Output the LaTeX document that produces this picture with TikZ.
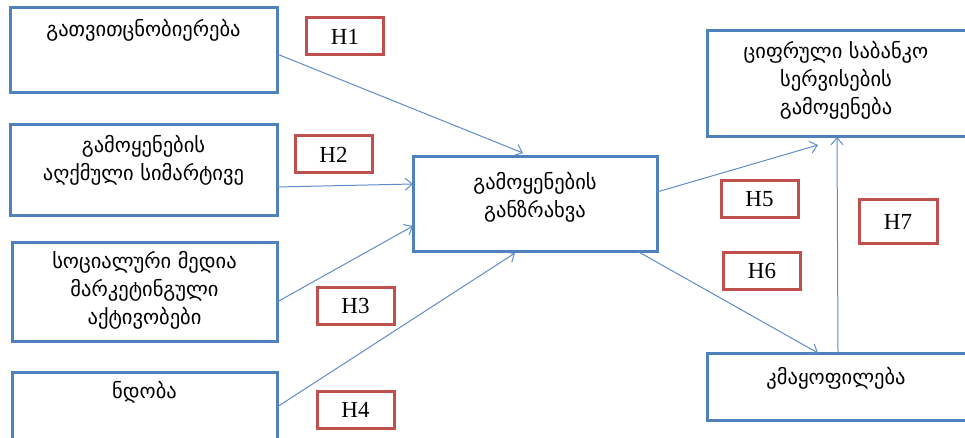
\documentclass[tikz,border=0pt]{standalone}
\usepackage{fontspec}
\newfontfamily\geo{DejaVu Sans}
\newfontfamily\hfont{Liberation Serif}
\usetikzlibrary{arrows.meta}
\definecolor{boxblue}{RGB}{79,129,189}
\definecolor{lineblue}{RGB}{95,140,200}
\definecolor{hred}{RGB}{192,80,77}
\tikzset{
  mainbox/.style={draw=boxblue, line width=3pt, inner sep=0pt, outer sep=0pt, fill=white},
  hbox/.style={draw=hred, line width=3pt, inner sep=0pt, outer sep=0pt, minimum width=77pt, minimum height=37pt, font=\hfont\fontsize{23}{25}\selectfont},
  gtext/.style={align=center, inner sep=0pt, font=\geo\fontsize{20.5}{28}\selectfont},
  conn/.style={draw=lineblue, line width=1pt, -{Straight Barb[length=7pt,width=12pt,line width=1pt]}}
}
\begin{document}
\begin{tikzpicture}[x=1pt,y=-1pt]
\useasboundingbox (0,0) rectangle (965,438);
\clip (0,0) rectangle (965,438);
% main boxes
\node[mainbox, minimum width=267pt, minimum height=85pt] (b1) at (143.5,50.5) {};
\node[mainbox, minimum width=267pt, minimum height=91pt] (b2) at (143.5,170.5) {};
\node[mainbox, minimum width=265pt, minimum height=99pt] (b3) at (144.5,291.5) {};
\node[mainbox, minimum width=265pt, minimum height=98pt] (b4) at (144.5,421) {};
\node[mainbox, minimum width=244pt, minimum height=94pt] (c) at (535,204) {};
\node[mainbox, minimum width=293pt, minimum height=106pt] (tr) at (853.5,84) {};
\node[mainbox, minimum width=293pt, minimum height=67pt] (br) at (853.5,386.5) {};
% texts
\node[gtext] (t1) at (143.5,30) {გათვითცნობიერება};
\node[gtext] (t2) at (143.5,160) {გამოყენების\\აღქმული სიმარტივე};
\node[gtext] (t3) at (144.5,290) {სოციალური მედია\\მარკეტინგული\\აქტივობები};
\node[gtext] (t4) at (144.5,392) {ნდობა};
\node[gtext] (tc) at (535,197) {გამოყენების\\განზრახვა};
\node[gtext] (ttr) at (836,80) {ციფრული საბანკო\\სერვისების\\გამოყენება};
\node[gtext] (tbr) at (836,378) {კმაყოფილება};
% hypothesis labels
\node[hbox] (h1) at (345,36.5) {H1};
\node[hbox] (h2) at (333.5,154.5) {H2};
\node[hbox] (h3) at (355.5,305.5) {H3};
\node[hbox] (h4) at (355.5,409.5) {H4};
\node[hbox] (h5) at (759.5,199) {H5};
\node[hbox] (h6) at (762,270.5) {H6};
\node[hbox, minimum width=78pt, minimum height=43pt] (h7) at (898,221.5) {H7};
% connectors
\draw[conn] ([yshift=-3.5pt]b1.east) -- ([xshift=-12pt,yshift=4pt]c.north);
\draw[conn] ([yshift=-16.5pt]b2.east) -- ([yshift=20pt]c.west);
\draw[conn] ([yshift=-10.5pt]b3.east) -- ([yshift=-22pt]c.west);
\draw[conn] ([yshift=14pt]b4.east) -- ([xshift=-20pt,yshift=-2pt]c.south);
\draw[conn] ([yshift=12pt]c.east) -- ([xshift=111pt,yshift=-8pt]tr.south west);
\draw[conn] ([xshift=-20pt]c.south east) -- ([xshift=111pt]br.north west);
\draw[conn] ([xshift=131pt]br.north west) -- ([xshift=130pt]tr.south west);
\end{tikzpicture}
\end{document}
